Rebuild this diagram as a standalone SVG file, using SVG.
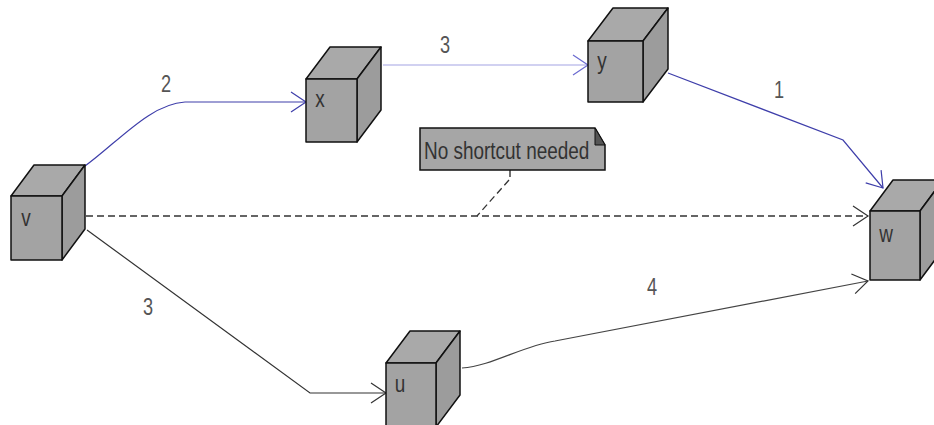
<svg xmlns="http://www.w3.org/2000/svg" width="934" height="425" viewBox="0 0 934 425">
<style>
.face{fill:#a3a3a3;stroke:#111;stroke-width:1.5;stroke-linejoin:round}
.top{fill:#a9a9a9;stroke:#111;stroke-width:1.5;stroke-linejoin:round}
.side{fill:#9c9c9c;stroke:#111;stroke-width:1.5;stroke-linejoin:round}
.lbl{font-family:"Liberation Sans",Arial,sans-serif;font-size:24px;fill:#333;text-anchor:middle}
.num{font-family:"Liberation Sans",Arial,sans-serif;font-size:23px;fill:#555;text-anchor:middle}
.edge{fill:none;stroke-width:1.2}
.blue{stroke:#3e3eaa}
.lblue{stroke:#a4a4e4}
.dark{stroke:#333}
.grey{stroke:#444}
.dash{fill:none;stroke:#333;stroke-width:1.3;stroke-dasharray:7,4}
</style>
<defs>
<marker id="ab" viewBox="-17 -12 19 24" refX="0" refY="0" markerWidth="19" markerHeight="24" markerUnits="userSpaceOnUse" orient="auto"><path d="M-15,-10 L0,0 L-15,10" fill="none" stroke="#3e3eaa" stroke-width="1.2"/></marker>
<marker id="alb" viewBox="-17 -12 19 24" refX="0" refY="0" markerWidth="19" markerHeight="24" markerUnits="userSpaceOnUse" orient="auto"><path d="M-15,-10 L0,0 L-15,10" fill="none" stroke="#6a6ad0" stroke-width="1.2"/></marker>
<marker id="ak" viewBox="-17 -12 19 24" refX="0" refY="0" markerWidth="19" markerHeight="24" markerUnits="userSpaceOnUse" orient="auto"><path d="M-15,-10 L0,0 L-15,10" fill="none" stroke="#333" stroke-width="1.2"/></marker>
</defs>
<g id="connectors">
<path class="edge blue" d="M85,166 C118,142 150,104 185,102 L306,102" marker-end="url(#ab)"/>
<path class="edge lblue" d="M383,65 L588,65" marker-end="url(#alb)"/>
<path class="edge blue" d="M668,73 L843,140 L883,188" marker-end="url(#ab)"/>
<path class="edge dark" d="M87,230 L310,393 L386,393" marker-end="url(#ak)"/>
<path class="edge grey" d="M462,368 C492,366 522,346 555,341 L868,281" marker-end="url(#ak)"/>
<path class="dash" d="M86,216 L868,216" marker-end="url(#ak)"/>
<path fill="none" stroke="#222" stroke-width="1.3" d="M510,170 L510,177"/>
<path class="dash" d="M509,180 L477,216"/>
<text class="num" transform="translate(166,92) scale(0.79,1)">2</text>
<text class="num" transform="translate(445,53) scale(0.79,1)">3</text>
<text class="num" transform="translate(779,98) scale(0.79,1)">1</text>
<text class="num" transform="translate(148,315) scale(0.79,1)">3</text>
<text class="num" transform="translate(652,295) scale(0.79,1)">4</text>
</g>
<g id="node-v">
<polygon class="top" points="11,196 34,165 85,165 62,196"/>
<polygon class="side" points="62,196 85,165 85,229 62,260"/>
<rect class="face" x="11" y="196" width="51" height="64"/>
<text class="lbl" transform="translate(26,226) scale(0.79,1)">v</text>
</g>
<g id="node-x">
<polygon class="top" points="306,79 330,47 381,47 357,79"/>
<polygon class="side" points="357,79 381,47 381,110 357,142"/>
<rect class="face" x="306" y="79" width="51" height="63"/>
<text class="lbl" transform="translate(320,107) scale(0.79,1)">x</text>
</g>
<g id="node-y">
<polygon class="top" points="588,41 613,8 668,8 643,41"/>
<polygon class="side" points="643,41 668,8 668,69 643,102"/>
<rect class="face" x="588" y="41" width="55" height="61"/>
<text class="lbl" transform="translate(602,69) scale(0.79,1)">y</text>
</g>
<g id="node-w">
<polygon class="top" points="870,211 893,180 943,180 920,211"/>
<polygon class="side" points="920,211 943,180 943,249 920,280"/>
<rect class="face" x="870" y="211" width="50" height="69"/>
<text class="lbl" transform="translate(886,242) scale(0.79,1)">w</text>
</g>
<g id="node-u">
<polygon class="top" points="386,363 410,331 460,331 436,363"/>
<polygon class="side" points="436,363 460,331 460,395 436,427"/>
<rect class="face" x="386" y="363" width="50" height="64"/>
<text class="lbl" transform="translate(400,392) scale(0.79,1)">u</text>
</g>
<g id="note">
<path d="M420,128 L595,128 L605,145 L605,170 L420,170 Z" fill="#a6a6a6" stroke="#111" stroke-width="1.5"/>
<path d="M595,128 L605,145 L595,145 Z" fill="#555" stroke="#111" stroke-width="1"/>
<text class="lbl" style="text-anchor:start" transform="translate(424,159) scale(0.79,1)">No shortcut needed</text>
</g>
</svg>
